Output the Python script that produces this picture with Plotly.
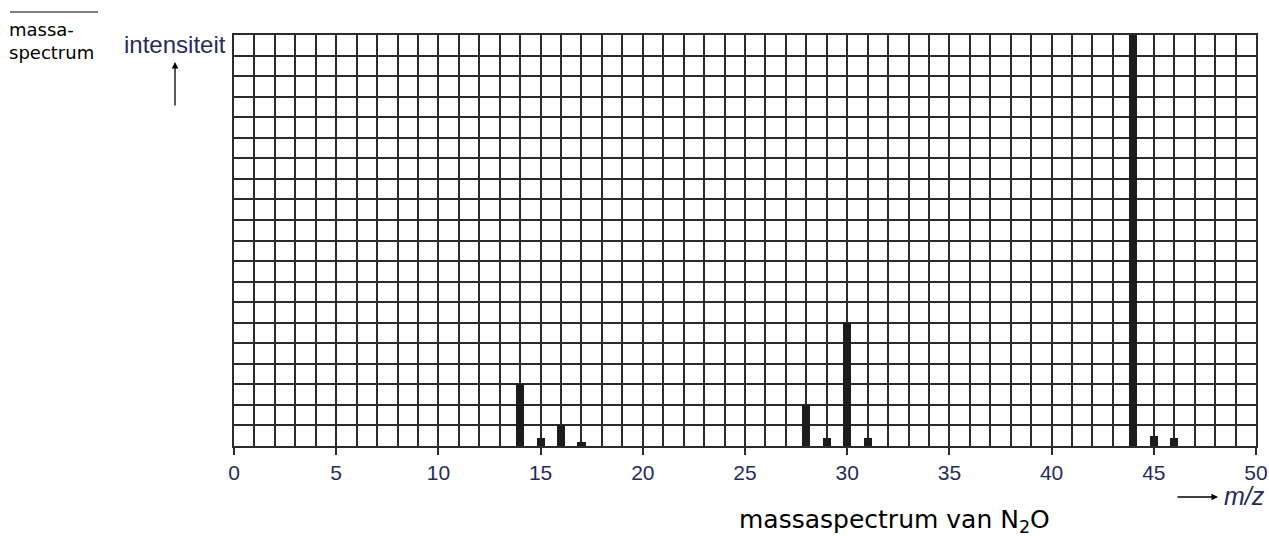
import plotly.graph_objects as go

mz = [14, 15, 16, 17, 28, 29, 30, 31, 44, 45, 46]
intensity = [3.0, 0.4, 1.0, 0.2, 2.0, 0.4, 6.0, 0.4, 20.0, 0.5, 0.4]
x_ticks = [0, 5, 10, 15, 20, 25, 30, 35, 40, 45, 50]

GRID = "#2b2b2b"
LABEL = "#262c58"
PW, PH = 1022, 411  # plot area size in px

fig = go.Figure()
fig.add_trace(go.Bar(x=mz, y=intensity, width=0.4,
                     marker=dict(color="#1c1c1c", line=dict(width=0))))

fig.update_layout(
    width=1269, height=536,
    margin=dict(l=234, r=13, t=35, b=90, autoexpand=False),
    paper_bgcolor="white", plot_bgcolor="white",
    showlegend=False, bargap=0,
    xaxis=dict(range=[0, 50], tickvals=x_ticks, ticktext=[str(v) for v in x_ticks],
               showgrid=True, gridcolor=GRID, gridwidth=1.5,
               minor=dict(dtick=1, tick0=0, showgrid=True, gridcolor=GRID, gridwidth=1.5),
               ticks="outside", ticklen=7, tickwidth=1.5, tickcolor=GRID,
               tickfont=dict(family="Liberation Sans", size=21, color=LABEL),
               showline=True, linecolor=GRID, linewidth=1.5, mirror=True,
               zeroline=False, fixedrange=True, automargin=False),
    yaxis=dict(range=[0, 20], dtick=1, showgrid=True, gridcolor=GRID, gridwidth=1.5,
               showticklabels=False, ticks="",
               showline=True, linecolor=GRID, linewidth=1.5, mirror=True,
               zeroline=False, fixedrange=True, automargin=False),
)

# left side label block
fig.add_shape(type="line", xref="paper", yref="paper", x0=(10 - 234)/PW, x1=(98 - 234)/PW,
              y0=1 + 23/PH, y1=1 + 23/PH, line=dict(color="black", width=1))
fig.add_annotation(xref="paper", yref="paper", x=(7 - 234)/PW, y=1 + 18/PH,
                   xanchor="left", yanchor="top", showarrow=False, align="left",
                   text="massa-<br>spectrum",
                   font=dict(family="DejaVu Sans", size=18, color="black"))
fig.add_annotation(xref="paper", yref="paper", x=-112/PW, y=1 - 10/PH,
                   xanchor="left", yanchor="middle", showarrow=False,
                   text="intensiteit",
                   font=dict(family="Liberation Sans", size=24, color=LABEL))
fig.add_annotation(xref="paper", yref="paper", x=-59/PW, y=1 - 27/PH,
                   ax=0, ay=45, showarrow=True, arrowhead=2, arrowsize=1,
                   arrowwidth=1.3, arrowcolor="black", text="")
# m/z label
fig.add_annotation(xref="paper", yref="paper", x=(1218 - 234)/PW, y=-(497 - 446)/PH,
                   ax=-42, ay=0, showarrow=True, arrowhead=2, arrowsize=1,
                   arrowwidth=1.3, arrowcolor="black", text="")
fig.add_annotation(xref="paper", yref="paper", x=(1222 - 234)/PW, y=-(496 - 446)/PH,
                   xanchor="left", yanchor="middle", showarrow=False,
                   text="<i>m/z</i>",
                   font=dict(family="Liberation Sans", size=25, color=LABEL))
fig.add_annotation(xref="paper", yref="paper", x=(894 - 234)/PW, y=-(521 - 446)/PH,
                   xanchor="center", yanchor="middle", showarrow=False,
                   text="massaspectrum van N<sub>2</sub>O",
                   font=dict(family="DejaVu Sans", size=25, color="black"))

fig.write_html("out.html")
